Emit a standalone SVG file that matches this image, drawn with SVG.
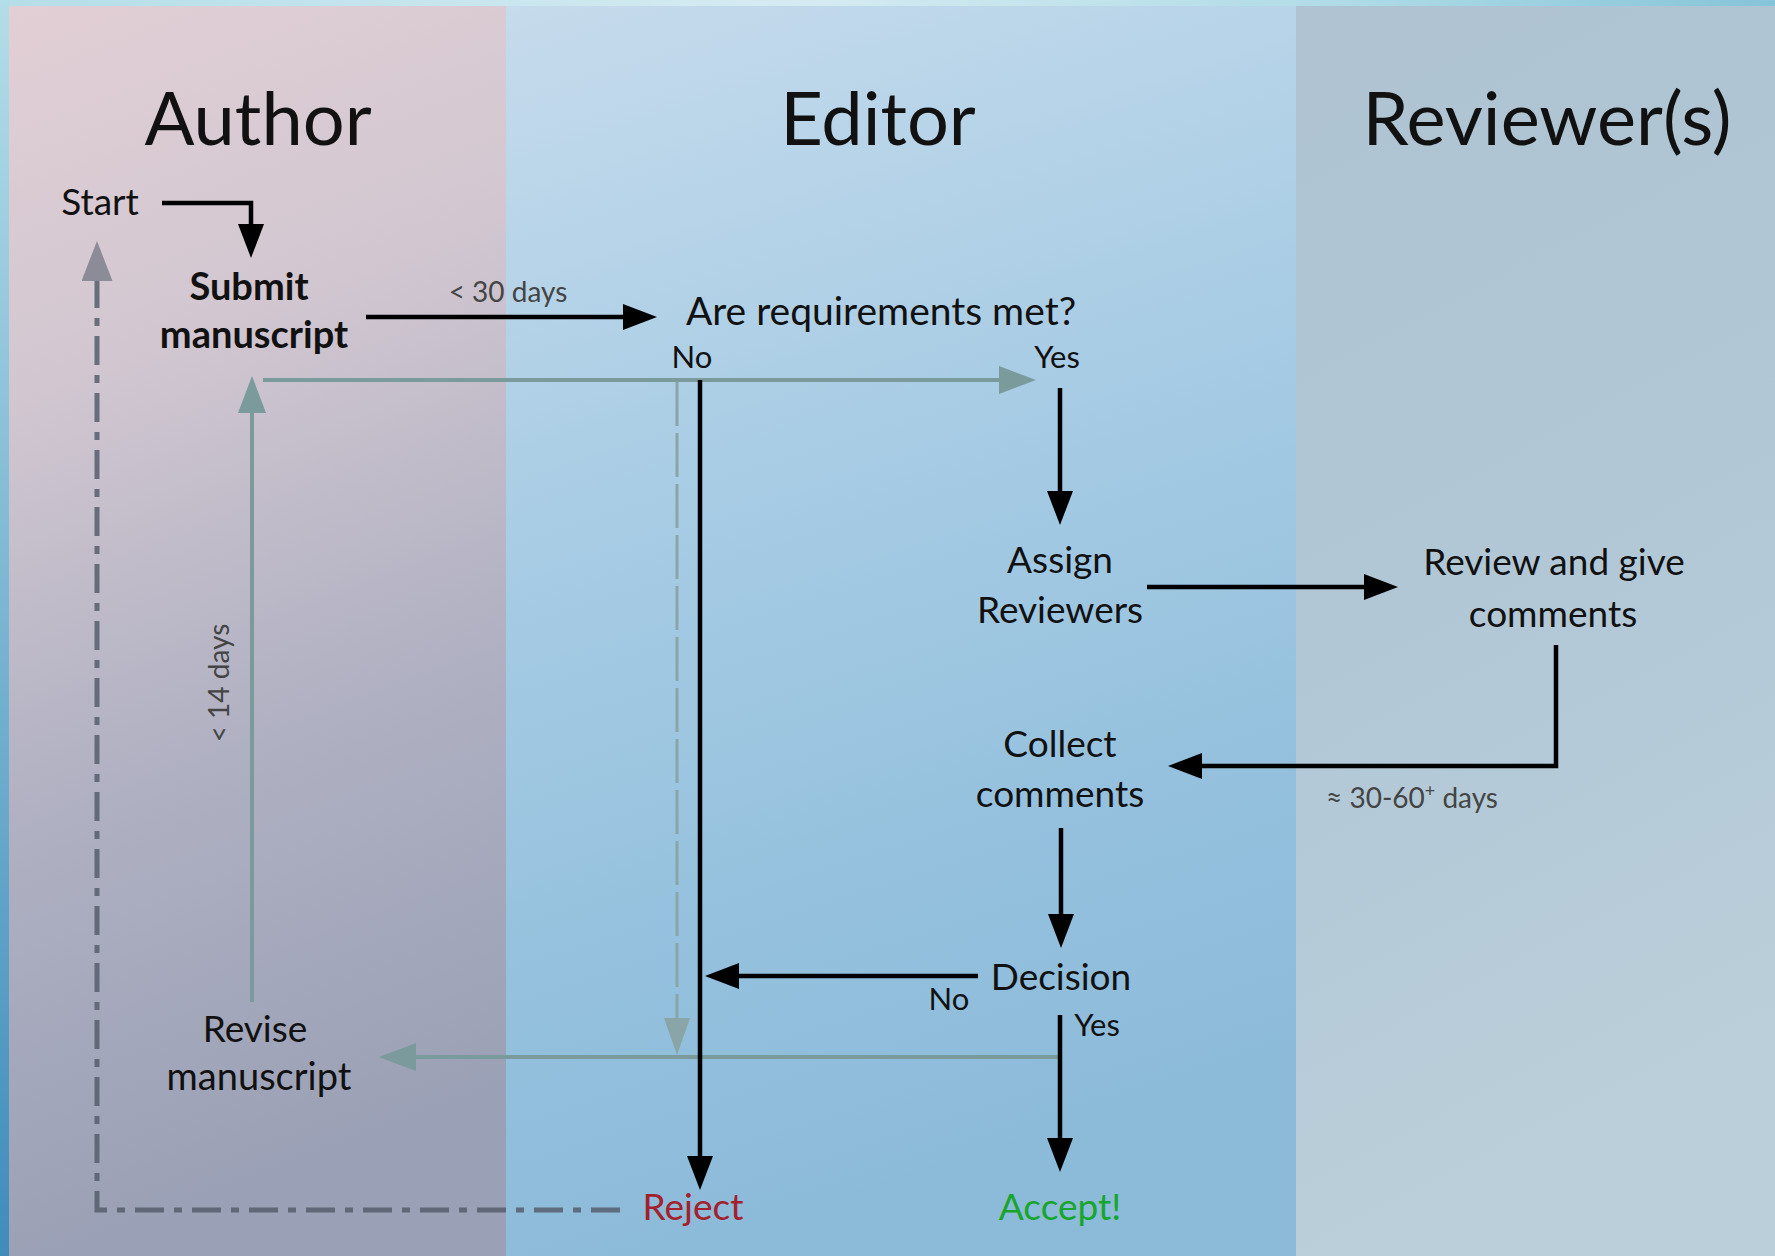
<svg xmlns="http://www.w3.org/2000/svg" width="1775" height="1256" viewBox="0 0 1775 1256">
  <defs>
    <linearGradient id="gTop" x1="0" y1="0" x2="1" y2="0">
      <stop offset="0" stop-color="#b4dee9"/>
      <stop offset="0.45" stop-color="#d6ebf1"/>
      <stop offset="0.75" stop-color="#b0dce7"/>
      <stop offset="1" stop-color="#86c4d9"/>
    </linearGradient>
    <linearGradient id="gLeft" x1="0" y1="0" x2="0" y2="1">
      <stop offset="0" stop-color="#b3dde8"/>
      <stop offset="1" stop-color="#3f8cbb"/>
    </linearGradient>
    <linearGradient id="gAuthor" x1="0" y1="0" x2="0.15" y2="1">
      <stop offset="0" stop-color="#e2cfd5"/>
      <stop offset="0.3" stop-color="#d2c7d1"/>
      <stop offset="0.65" stop-color="#afb0c2"/>
      <stop offset="1" stop-color="#9aa0b5"/>
    </linearGradient>
    <linearGradient id="gEditor" x1="0" y1="0" x2="0.2" y2="1">
      <stop offset="0" stop-color="#c6dbec"/>
      <stop offset="0.4" stop-color="#a9cde5"/>
      <stop offset="0.75" stop-color="#95c1de"/>
      <stop offset="1" stop-color="#8cbbd9"/>
    </linearGradient>
    <linearGradient id="gReviewer" x1="0" y1="0" x2="0.2" y2="1">
      <stop offset="0" stop-color="#afc3d2"/>
      <stop offset="0.5" stop-color="#b1c7d6"/>
      <stop offset="1" stop-color="#bbcfda"/>
    </linearGradient>
    <marker id="arrBlack" viewBox="0 0 34 26" markerUnits="userSpaceOnUse" markerWidth="34" markerHeight="26" refX="24" refY="13" orient="auto">
      <path d="M0,0 L34,13 L0,26 Z" fill="#000"/>
    </marker>
    <marker id="arrTeal" viewBox="0 0 37 28" markerUnits="userSpaceOnUse" markerWidth="37" markerHeight="28" refX="27" refY="14" orient="auto">
      <path d="M0,0 L37,14 L0,28 Z" fill="#7a9a9c"/>
    </marker>
    <marker id="arrTealLight" viewBox="0 0 37 26" markerUnits="userSpaceOnUse" markerWidth="37" markerHeight="26" refX="27" refY="13" orient="auto">
      <path d="M0,0 L37,13 L0,26 Z" fill="#89a5a8"/>
    </marker>
    <marker id="arrGrey" viewBox="0 0 40 31" markerUnits="userSpaceOnUse" markerWidth="40" markerHeight="31" refX="30" refY="15.5" orient="auto">
      <path d="M0,0 L40,15.5 L0,31 Z" fill="#8b8c98"/>
    </marker>
  </defs>
  <style>
    text { font-family: Lato, "Open Sans", "Liberation Sans", sans-serif; fill: #111; }
    .title { font-size: 74px; text-anchor: middle; }
    .body { font-size: 37px; text-anchor: middle; }
    .big { font-size: 39px; }
    .bold { font-weight: bold; font-size: 38px; }
    .yn { font-size: 31px; text-anchor: middle; }
    .small { font-size: 28px; fill: #444; text-anchor: middle; }
    .black { fill: none; stroke: #000; stroke-width: 4.5; marker-end: url(#arrBlack); }
    .teal { fill: none; stroke: #7a9a9c; stroke-width: 4; marker-end: url(#arrTeal); }
    .tealdash { fill: none; stroke: #89a5a8; stroke-width: 3; stroke-dasharray: 44 7; marker-end: url(#arrTealLight); }
    .dashdot { fill: none; stroke: #565e6c; stroke-opacity: 0.85; stroke-width: 5; stroke-dasharray: 29 10 8 10; marker-end: url(#arrGrey); }
  </style>

  <g id="background">
    <rect x="0" y="0" width="1775" height="1256" fill="url(#gTop)"/>
    <rect x="0" y="0" width="9" height="1256" fill="url(#gLeft)"/>
    <rect id="lane-author" x="9" y="6" width="497" height="1250" fill="url(#gAuthor)"/>
    <rect id="lane-editor" x="506" y="6" width="790" height="1250" fill="url(#gEditor)"/>
    <rect id="lane-reviewer" x="1296" y="6" width="479" height="1250" fill="url(#gReviewer)"/>
  </g>

  <g id="titles">
    <text class="title" x="258" y="145">Author</text>
    <text class="title" x="878" y="145">Editor</text>
    <text class="title" x="1547" y="145">Reviewer(s)</text>
  </g>

  <g id="connectors">
    <path class="black" d="M162,203 H251 V248"/>
    <path class="black" d="M366,317 H647"/>
    <path class="teal" d="M263,380 H1026"/>
    <path class="teal" d="M252,1002 V386"/>
    <path class="tealdash" d="M677,382 V1045"/>
    <path class="teal" d="M1061,1057 H389"/>
    <path class="black" d="M700,380 V1180"/>
    <path class="black" d="M1060,388 V515"/>
    <path class="black" d="M1147,587 H1388"/>
    <path class="black" d="M1556,645 V766 H1178"/>
    <path class="black" d="M1061,828 V938"/>
    <path class="black" d="M978,976 H715"/>
    <path class="black" d="M1060,1015 V1162"/>
    <path class="dashdot" d="M620,1210 H97 V251"/>
  </g>

  <g id="edge-labels">
    <text class="small" x="508" y="302">&lt; 30 days</text>
    <text class="small" transform="translate(229,683) rotate(-90)">&lt; 14 days</text>
    <text class="small" x="1412" y="808">≈ 30-60<tspan font-size="18" dy="-11">+</tspan><tspan dy="11"> days</tspan></text>
    <text class="yn" x="692" y="368">No</text>
    <text class="yn" x="1057" y="368">Yes</text>
    <text class="yn" x="949" y="1010">No</text>
    <text class="yn" x="1097" y="1036">Yes</text>
  </g>

  <g id="node-start">
    <text class="body" x="100" y="215">Start</text>
  </g>
  <g id="node-submit">
    <text class="body bold" x="249" y="300">Submit</text>
    <text class="body bold" x="254" y="348">manuscript</text>
  </g>
  <g id="node-requirements">
    <text class="body big" x="881" y="325">Are requirements met?</text>
  </g>
  <g id="node-assign">
    <text class="body" x="1060" y="573">Assign</text>
    <text class="body" x="1060" y="623">Reviewers</text>
  </g>
  <g id="node-review">
    <text class="body" x="1554" y="575">Review and give</text>
    <text class="body" x="1553" y="627">comments</text>
  </g>
  <g id="node-collect">
    <text class="body" x="1060" y="757">Collect</text>
    <text class="body" x="1060" y="807">comments</text>
  </g>
  <g id="node-decision">
    <text class="body" x="1061" y="990">Decision</text>
  </g>
  <g id="node-revise">
    <text class="body" x="255" y="1042">Revise</text>
    <text class="body" x="259" y="1090" style="font-size:38px">manuscript</text>
  </g>
  <g id="node-reject">
    <text class="body" x="693" y="1220" style="fill:#a3202c">Reject</text>
  </g>
  <g id="node-accept">
    <text class="body" x="1060" y="1220" style="fill:#17a52b">Accept!</text>
  </g>
</svg>
